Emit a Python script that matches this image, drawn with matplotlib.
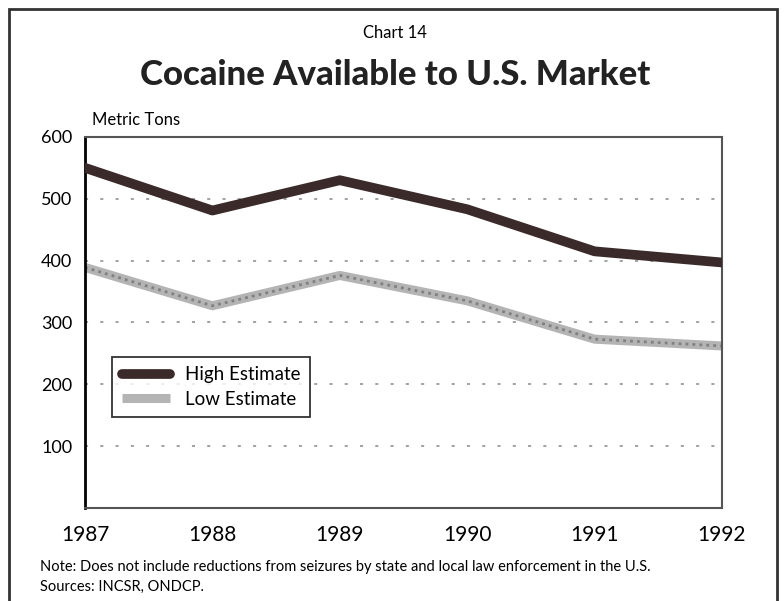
import matplotlib.pyplot as plt
from matplotlib.patches import Rectangle

years = [1987, 1988, 1989, 1990, 1991, 1992]
high_estimate = [550, 481, 530, 483, 415, 397]
low_estimate = [389, 327, 376, 335, 273, 262]
y_ticks = [100, 200, 300, 400, 500, 600]

plt.rcParams['font.family'] = ['Lato', 'DejaVu Sans']

fig = plt.figure(figsize=(7.84, 6.01), dpi=100)
ax = fig.add_axes([0.1084, 0.1547, 0.8125, 0.6175])

# outer frame
fig.patches.append(Rectangle((0.011, -0.01), 0.98, 0.995, transform=fig.transFigure,
                             fill=False, edgecolor='#333333', linewidth=2))

for y in y_ticks[:-1]:
    ax.axhline(y, color='#888888', linewidth=1.1, linestyle=(0, (2, 8)), zorder=1)

ax.plot(years, high_estimate, color='#3b2a2a', linewidth=7, solid_capstyle='round',
        label='High Estimate', zorder=3)
ax.plot(years, low_estimate, color='#b4b4b4', linewidth=6.5, solid_capstyle='butt',
        label='Low Estimate', zorder=2)
ax.plot(years, low_estimate, color='#808080', linewidth=2, linestyle=(0, (1, 1.5)), zorder=2)

ax.set_xlim(1987, 1992)
ax.set_ylim(0, 600)
ax.set_yticks(y_ticks)
ax.set_yticklabels([str(v) for v in y_ticks], fontsize=13)
ax.set_xticks(years)
ax.set_xticklabels([str(v) for v in years], fontsize=15)
ax.tick_params(length=0, pad=9)
ax.tick_params(axis='x', pad=12)
for s in ['top', 'right', 'bottom']:
    ax.spines[s].set_color('#555555')
    ax.spines[s].set_linewidth(1.5)
ax.spines['left'].set_color('black')
ax.spines['left'].set_linewidth(2)

leg = ax.legend(loc='lower left', bbox_to_anchor=(0.028, 0.22), fontsize=13.5,
                frameon=True, fancybox=False, edgecolor='black', handlelength=2.6,
                borderpad=0.5, labelspacing=0.4)
leg.get_frame().set_linewidth(1.3)

fig.text(0.117, 0.787, 'Metric Tons', fontsize=12, ha='left', va='bottom')
fig.text(0.504, 0.945, 'Chart 14', fontsize=12, ha='center', va='center')
fig.text(0.504, 0.876, 'Cocaine Available to U.S. Market', fontsize=25,
         fontweight='black', ha='center', va='center', color='#222222')
fig.text(0.051, 0.057, 'Note: Does not include reductions from seizures by state and local law enforcement in the U.S.',
         fontsize=10.5, ha='left', va='center')
fig.text(0.051, 0.024, 'Sources: INCSR, ONDCP.', fontsize=10.5, ha='left', va='center')

fig.savefig('out.png', dpi=100)
